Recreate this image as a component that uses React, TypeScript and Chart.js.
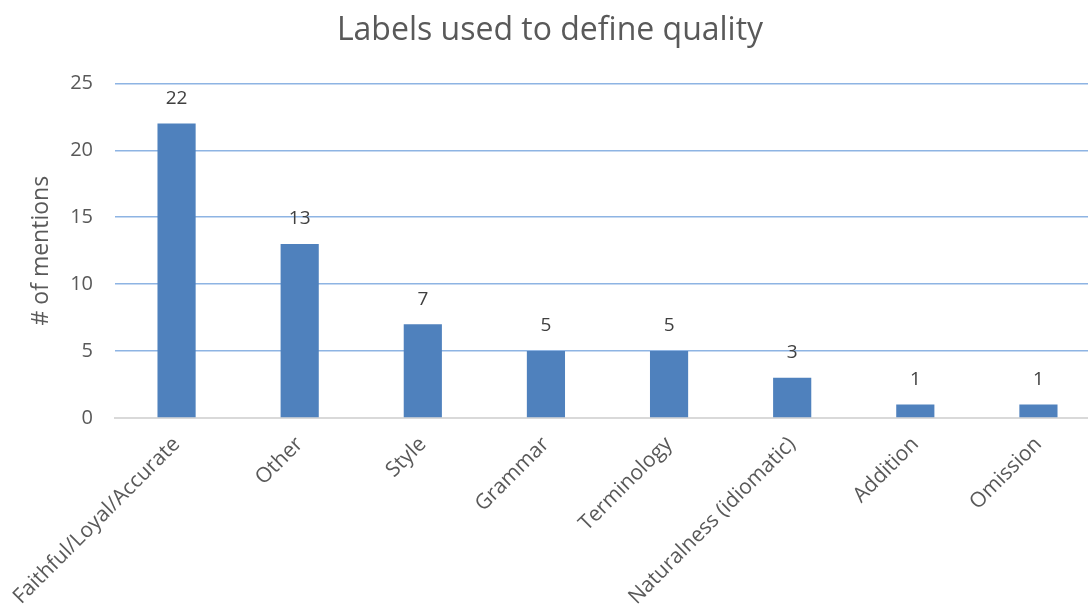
import React, { useEffect, useRef } from "react";
import { Chart, registerables } from "chart.js";

Chart.register(...registerables);

const categories = [
  "Faithful/Loyal/Accurate",
  "Other",
  "Style",
  "Grammar",
  "Terminology",
  "Naturalness (idiomatic)",
  "Addition",
  "Omission",
];
const mentions = [22, 13, 7, 5, 5, 3, 1, 1];
const chartTitle = "Labels used to define quality";
const yTitle = "# of mentions";

const FONT = "'Open Sans', 'Noto Sans', sans-serif";

const dataLabelPlugin = {
  id: "dataLabels",
  afterDatasetsDraw(chart: any) {
    const ctx = chart.ctx;
    const meta = chart.getDatasetMeta(0);
    ctx.save();
    ctx.font = `19px ${FONT}`;
    ctx.fillStyle = "#404040";
    ctx.textAlign = "center";
    ctx.textBaseline = "middle";
    meta.data.forEach((bar: any, i: number) => {
      const v = chart.data.datasets[0].data[i];
      ctx.fillText(String(v), bar.x, bar.y - 25);
    });
    ctx.restore();
  },
};

export default function App() {
  const ref = useRef<HTMLCanvasElement>(null);
  useEffect(() => {
    if (!ref.current) return;
    const chart = new Chart(ref.current, {
      type: "bar",
      data: {
        labels: categories,
        datasets: [
          {
            data: mentions,
            backgroundColor: "#4F81BD",
            borderColor: "#4F81BD",
            borderWidth: 0,
            barPercentage: 0.62,
            categoryPercentage: 0.5,
          },
        ],
      },
      options: {
        animation: false,
        responsive: false,
        maintainAspectRatio: false,
        layout: { padding: { top: 12, right: 0, left: 0, bottom: 0 } },
        plugins: {
          legend: { display: false },
          tooltip: { enabled: false },
          title: {
            display: true,
            text: chartTitle,
            color: "#595959",
            font: { family: FONT, size: 32, weight: "normal" },
            padding: { top: 0, bottom: 33 },
          },
        },
        scales: {
          x: {
            grid: { display: false, drawTicks: false },
            border: { display: true, color: "#D9D9D9", width: 2 },
            ticks: {
              color: "#595959",
              font: { family: FONT, size: 21 },
              maxRotation: 45,
              minRotation: 45,
              autoSkip: false,
              padding: 14,
            },
            afterFit(scale: any) {
              scale.height = 190;
              scale.paddingLeft = 0;
              scale.paddingRight = 0;
            },
          } as any,
          y: {
            min: 0,
            max: 25,
            ticks: {
              stepSize: 5,
              color: "#595959",
              font: { family: FONT, size: 20 },
              padding: 22,
            },
            grid: {
              color: (c: any) => (c.tick && c.tick.value === 0 ? "#D9D9D9" : "#8EB4E3"),
              lineWidth: 1.5,
              drawTicks: false,
            },
            border: { display: false },
            title: {
              display: true,
              text: yTitle,
              color: "#595959",
              font: { family: FONT, size: 23 },
              padding: { top: 28, bottom: 0 },
            },
            afterFit(scale: any) {
              scale.width = 115;
            },
          } as any,
        },
      },
      plugins: [dataLabelPlugin],
    });
    return () => chart.destroy();
  }, []);
  return (
    <div
      style={{
        position: "fixed",
        left: 0,
        top: 0,
        width: 1088,
        height: 608,
        overflow: "hidden",
        background: "#fff",
      }}
    >
      <canvas ref={ref} width={1100} height={608} style={{ display: "block" }} />
    </div>
  );
}
